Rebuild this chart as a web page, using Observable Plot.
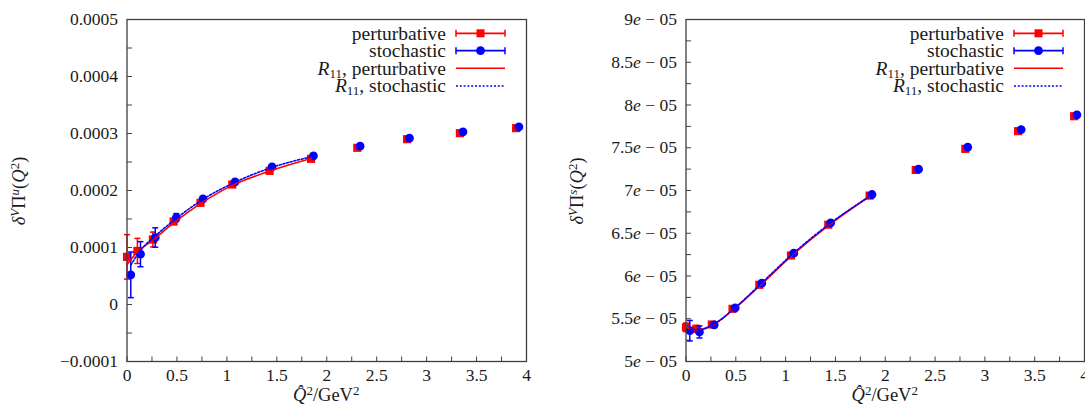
<!DOCTYPE html>
<html><head><meta charset="utf-8">
<script src="https://cdn.jsdelivr.net/npm/d3@7"></script>
<script src="https://cdn.jsdelivr.net/npm/@observablehq/plot@0.6"></script>
<style>
html,body{margin:0;padding:0;background:#fff;}
body{width:1085px;height:405px;overflow:hidden;}
#wrap{position:relative;width:1085px;height:405px;}
.panel{position:absolute;top:0;}
</style></head>
<body><div id="wrap"><div class="panel" id="left" style="left:0"></div><div class="panel" id="right" style="left:543px"></div></div>
<script>
// ---------- data ----------
const q2Pert  = [0, 0.104, 0.259, 0.467, 0.736, 1.054, 1.428, 1.843, 2.306, 2.804, 3.333, 3.896];
const q2Stoch = [0.038, 0.135, 0.283, 0.494, 0.761, 1.082, 1.452, 1.867, 2.334, 2.828, 3.364, 3.924];

// left panel: delta^V Pi^u
const piUPert     = [0.0000836, 0.0000940, 0.0001140, 0.0001456, 0.0001784, 0.0002105, 0.0002345, 0.0002556, 0.0002749, 0.0002900, 0.0003006, 0.0003094];
const piUPertErr  = [0.0000390, 0.0000220, 0.0000130, 0.0000050, 0.0000030, 0.0000025, 0.0000025, 0.0000025, 0.0000020, 0.0000020, 0.0000020, 0.0000020];
const piUStoch    = [0.0000520, 0.0000883, 0.0001175, 0.0001526, 0.0001854, 0.0002152, 0.0002415, 0.0002608, 0.0002778, 0.0002918, 0.0003029, 0.0003117];
const piUStochErr = [0.0000400, 0.0000220, 0.0000170, 0.0000070, 0.0000035, 0.0000025, 0.0000025, 0.0000025, 0.0000020, 0.0000020, 0.0000020, 0.0000020];
const piUR11Pert  = [0.0000700, 0.0000920, 0.0001130, 0.0001430, 0.0001770, 0.0002090, 0.0002340, 0.0002560];
const piUR11Stoch = [0.0000690, 0.0000950, 0.0001200, 0.0001510, 0.0001845, 0.0002145, 0.0002405, 0.0002600];

// right panel: delta^V Pi^s
const piSPert     = [5.400e-5, 5.382e-5, 5.433e-5, 5.616e-5, 5.897e-5, 6.240e-5, 6.600e-5, 6.940e-5, 7.240e-5, 7.487e-5, 7.694e-5, 7.869e-5];
const piSPertErr  = [0.5e-6, 0.4e-6, 0.2e-6, 0.1e-6, 0.1e-6, 0.1e-6, 0.1e-6, 0.1e-6, 0.1e-6, 0.1e-6, 0.1e-6, 0.1e-6];
const piSStoch    = [5.360e-5, 5.345e-5, 5.428e-5, 5.628e-5, 5.916e-5, 6.267e-5, 6.622e-5, 6.953e-5, 7.250e-5, 7.507e-5, 7.713e-5, 7.885e-5];
const piSStochErr = [1.2e-6, 0.7e-6, 0.3e-6, 0.2e-6, 0.1e-6, 0.1e-6, 0.1e-6, 0.1e-6, 0.1e-6, 0.1e-6, 0.1e-6, 0.1e-6];
const piSR11Pert  = [5.400e-5, 5.370e-5, 5.420e-5, 5.600e-5, 5.880e-5, 6.230e-5, 6.590e-5, 6.930e-5];
const piSR11Stoch = [5.380e-5, 5.370e-5, 5.440e-5, 5.630e-5, 5.920e-5, 6.270e-5, 6.620e-5, 6.950e-5];

// ticks
const xTicks      = [0, 0.5, 1, 1.5, 2, 2.5, 3, 3.5, 4];
const xTickLabels = ["0", "0.5", "1", "1.5", "2", "2.5", "3", "3.5", "4"];
const xMinorTicks = [0, 0.25, 0.5, 0.75, 1, 1.25, 1.5, 1.75, 2, 2.25, 2.5, 2.75, 3, 3.25, 3.5, 3.75, 4];
const yTicksU      = [-0.0001, 0, 0.0001, 0.0002, 0.0003, 0.0004, 0.0005];
const yTickLabelsU = ["\u22120.0001", "0", "0.0001", "0.0002", "0.0003", "0.0004", "0.0005"];
const yMinorTicksU = [-0.0001, -0.00005, 0, 0.00005, 0.0001, 0.00015, 0.0002, 0.00025, 0.0003, 0.00035, 0.0004, 0.00045, 0.0005];
const yTicksS      = [5e-5, 5.5e-5, 6e-5, 6.5e-5, 7e-5, 7.5e-5, 8e-5, 8.5e-5, 9e-5];
const yTickLabelsS = ["5e \u2212 05", "5.5e \u2212 05", "6e \u2212 05", "6.5e \u2212 05", "7e \u2212 05", "7.5e \u2212 05", "8e \u2212 05", "8.5e \u2212 05", "9e \u2212 05"];
const yMinorTicksS = [5e-5, 5.25e-5, 5.5e-5, 5.75e-5, 6e-5, 6.25e-5, 6.5e-5, 6.75e-5, 7e-5, 7.25e-5, 7.5e-5, 7.75e-5, 8e-5, 8.25e-5, 8.5e-5, 8.75e-5, 9e-5];

const legendLabels = ["perturbative", "stochastic", "R11, perturbative", "R11, stochastic"];

// ---------- style ----------
const FONT = "Liberation Serif, serif";
const RED = "#ff0000", BLUE = "#0000ff", FRAME = "#404040", TXT = "#1a1a1a";
const tickUp = {draw(c){ c.moveTo(0,0); c.lineTo(0,-5); }};
const tickRight = {draw(c){ c.moveTo(0,0); c.lineTo(5,0); }};
const capSym = {draw(c){ c.moveTo(-3,0); c.lineTo(3,0); }};

function zip(xs, ys, es){ return xs.map((x,i)=>({x, y: ys[i], e: es ? es[i] : 0})); }

function panel(opts){
  const {el, width, marginLeft, marginRight, yDomain, yTicks, yTickLabels, yMinor,
         pert, stoch, r11p, r11s, yLabelParts, yLabelX, italicE} = opts;
  const H = 405, mT = 19, mB = 44;
  const fmtX = d => xTickLabels[xTicks.findIndex(t => Math.abs(t-d) < 1e-9)];
  const fmtY = d => yTickLabels[yTicks.findIndex(t => Math.abs(t-d) < 1e-12)];
  const errMarks = (data, color) => [
    Plot.ruleX(data, {x: "x", y1: d => d.y - d.e, y2: d => d.y + d.e, stroke: color, strokeWidth: 1.5}),
    Plot.dot(data, {x: "x", y: d => d.y - d.e, symbol: capSym, stroke: color, fill: "none", strokeWidth: 1.5}),
    Plot.dot(data, {x: "x", y: d => d.y + d.e, symbol: capSym, stroke: color, fill: "none", strokeWidth: 1.5})
  ];
  const svg = Plot.plot({
    width, height: H, marginLeft, marginRight, marginTop: mT, marginBottom: mB,
    style: {fontFamily: FONT, fontSize: "17.5px", color: TXT, background: "#fff", overflow: "visible"},
    x: {domain: [0, 4]},
    y: {domain: yDomain},
    marks: [
      Plot.axisX({ticks: xTicks, tickSize: 0, tickPadding: 7, tickFormat: fmtX, label: null, fill: TXT, fontFamily: FONT}),
      Plot.axisY({ticks: yTicks, tickSize: 0, tickPadding: 9, tickFormat: fmtY, label: null, fill: TXT, fontFamily: FONT}),
      Plot.dot(xMinorTicks, {x: d => d, frameAnchor: "bottom", symbol: tickUp, stroke: FRAME, fill: "none", strokeWidth: 1}),
      Plot.dot(yMinor, {y: d => d, frameAnchor: "left", symbol: tickRight, stroke: FRAME, fill: "none", strokeWidth: 1}),
      ...errMarks(pert, RED),
      Plot.dot(pert, {x: "x", y: "y", symbol: "square", r: 4.6, fill: RED}),
      ...errMarks(stoch, BLUE),
      Plot.dot(stoch, {x: "x", y: "y", symbol: "circle", r: 4.4, fill: BLUE}),
      Plot.line(r11p, {x: "x", y: "y", stroke: RED, strokeWidth: 1.6, curve: "monotone-x"}),
      Plot.line(r11s, {x: "x", y: "y", stroke: BLUE, strokeWidth: 1.6, strokeDasharray: "2,1.8", curve: "monotone-x"}),
      Plot.frame({stroke: FRAME, strokeWidth: 1.3})
    ]
  });
  const s = d3.select(svg);
  if (italicE) {
    s.selectAll('g[aria-label="y-axis tick label"] text').each(function(){
      const t = this.textContent; const k = t.indexOf("e");
      const node = d3.select(this); node.text(null);
      node.append("tspan").text(t.slice(0, k));
      node.append("tspan").attr("font-style", "italic").text("e");
      node.append("tspan").text(t.slice(k+1));
    });
  }
  // y label
  const yl = s.append("text").attr("transform", `translate(${yLabelX},191) rotate(-90)`)
    .attr("text-anchor", "middle").attr("fill", TXT).attr("font-family", FONT).attr("font-size", 18.5);
  yl.append("tspan").attr("font-style", "italic").text("\u03b4");
  yl.append("tspan").attr("font-style", "italic").attr("font-size", 13).attr("baseline-shift", "6").text("V");
  yl.append("tspan").text("\u03a0");
  yl.append("tspan").attr("font-style", "italic").attr("font-size", 13).attr("baseline-shift", "6").text(yLabelParts);
  yl.append("tspan").text("(");
  yl.append("tspan").attr("font-style", "italic").text("Q");
  yl.append("tspan").attr("font-size", 13).attr("baseline-shift", "6").text("2");
  yl.append("tspan").text(")");
  // x label
  const fx = (marginLeft + width - marginRight) / 2;
  const xl = s.append("text").attr("x", fx).attr("y", 401).attr("text-anchor", "middle")
    .attr("fill", TXT).attr("font-family", FONT).attr("font-size", 18.5);
  xl.append("tspan").attr("font-style", "italic").text("Q\u0302");
  xl.append("tspan").attr("font-size", 13).attr("baseline-shift", "6").text("2");
  xl.append("tspan").text("/GeV");
  xl.append("tspan").attr("font-size", 13).attr("baseline-shift", "6").text("2");
  // legend
  const fr = width - marginRight;
  const rows = [14.3, 31.7, 49.3, 67];
  const lg = s.append("g").attr("font-family", FONT).attr("font-size", 19.5).attr("fill", TXT);
  legendLabels.forEach((lab, i) => {
    const y = mT + rows[i];
    const t = lg.append("text").attr("x", fr - 80).attr("y", y).attr("dy", "0.32em").attr("text-anchor", "end");
    if (lab.startsWith("R11")) {
      t.append("tspan").attr("font-style", "italic").text("R");
      t.append("tspan").attr("font-size", 13).attr("baseline-shift", "-3").text("11");
      t.append("tspan").text(lab.slice(3));
    } else t.text(lab);
    const x0 = fr - 70, x1 = fr - 21, xm = (x0 + x1) / 2;
    if (i < 2) {
      const c = i === 0 ? RED : BLUE;
      lg.append("line").attr("x1", x0).attr("x2", x1).attr("y1", y).attr("y2", y).attr("stroke", c).attr("stroke-width", 1.8);
      lg.append("line").attr("x1", x0).attr("x2", x0).attr("y1", y-3.5).attr("y2", y+3.5).attr("stroke", c).attr("stroke-width", 1.5);
      lg.append("line").attr("x1", x1).attr("x2", x1).attr("y1", y-3.5).attr("y2", y+3.5).attr("stroke", c).attr("stroke-width", 1.5);
      if (i === 0) lg.append("rect").attr("x", xm-4).attr("y", y-4).attr("width", 8).attr("height", 8).attr("fill", RED);
      else lg.append("circle").attr("cx", xm).attr("cy", y).attr("r", 4.4).attr("fill", BLUE);
    } else {
      const l = lg.append("line").attr("x1", x0).attr("x2", x1).attr("y1", y).attr("y2", y)
        .attr("stroke", i === 2 ? RED : BLUE).attr("stroke-width", 1.6);
      if (i === 3) l.attr("stroke-dasharray", "2,1.8");
    }
  });
  el.appendChild(svg);
}

panel({
  el: document.getElementById("left"), width: 542, marginLeft: 126.5, marginRight: 16,
  yDomain: [-0.0001, 0.0005], yTicks: yTicksU, yTickLabels: yTickLabelsU, yMinor: yMinorTicksU,
  pert: zip(q2Pert, piUPert, piUPertErr), stoch: zip(q2Stoch, piUStoch, piUStochErr),
  r11p: zip(q2Pert.slice(0, 8), piUR11Pert), r11s: zip(q2Stoch.slice(0, 8), piUR11Stoch),
  yLabelParts: "u", yLabelX: 25, italicE: false
});
panel({
  el: document.getElementById("right"), width: 542, marginLeft: 142.5, marginRight: 1,
  yDomain: [5e-5, 9e-5], yTicks: yTicksS, yTickLabels: yTickLabelsS, yMinor: yMinorTicksS,
  pert: zip(q2Pert, piSPert, piSPertErr), stoch: zip(q2Stoch, piSStoch, piSStochErr),
  r11p: zip(q2Pert.slice(0, 8), piSR11Pert), r11s: zip(q2Stoch.slice(0, 8), piSR11Stoch),
  yLabelParts: "s", yLabelX: 40, italicE: true
});
</script>
</body></html>
